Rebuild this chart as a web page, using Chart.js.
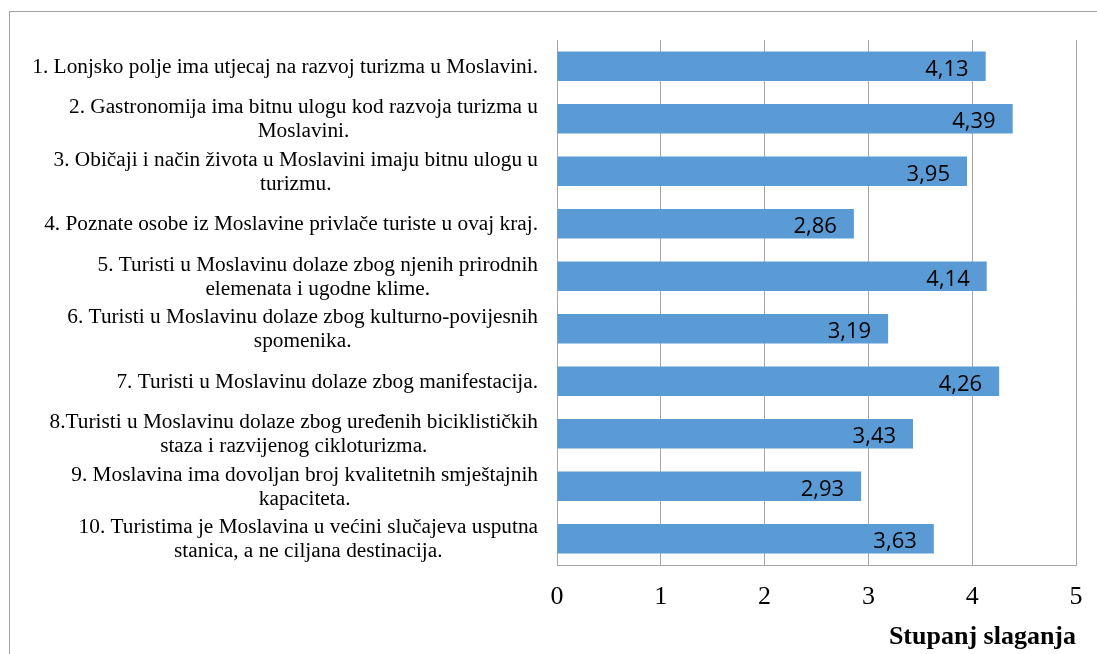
<!DOCTYPE html>
<html>
<head>
<meta charset="utf-8">
<script src="https://cdn.jsdelivr.net/npm/chart.js@4/dist/chart.umd.min.js"></script>
<style>
  html, body { margin: 0; padding: 0; background: #fff; overflow: hidden; }
  #frame { position: absolute; left: 9px; top: 11px; width: 1200px; height: 800px; border: 1px solid #a3a3a3; }
  #chart { position: absolute; left: 0; top: 0; }
</style>
</head>
<body>
<div id="frame"></div>
<canvas id="chart" width="1097" height="654"></canvas>
<script>
// statements (y categories), wrapped like the original
var questions = [
  ['1. Lonjsko polje ima utjecaj na razvoj turizma u Moslavini.'],
  ['2. Gastronomija ima bitnu ulogu kod razvoja turizma u', 'Moslavini.'],
  ['3. Običaji i način života u Moslavini imaju bitnu ulogu u', 'turizmu.'],
  ['4. Poznate osobe iz Moslavine privlače turiste u ovaj kraj.'],
  ['5. Turisti u Moslavinu dolaze zbog njenih prirodnih', 'elemenata i ugodne klime.'],
  ['6. Turisti u Moslavinu dolaze zbog kulturno-povijesnih', 'spomenika.'],
  ['7. Turisti u Moslavinu dolaze zbog manifestacija.'],
  ['8.Turisti u Moslavinu dolaze zbog uređenih biciklističkih', 'staza i razvijenog cikloturizma.'],
  ['9. Moslavina ima dovoljan broj kvalitetnih smještajnih', 'kapaciteta.'],
  ['10. Turistima je Moslavina u većini slučajeva usputna', 'stanica, a ne ciljana destinacija.']
];

// mean agreement per statement
var agreement = [4.13, 4.39, 3.95, 2.86, 4.14, 3.19, 4.26, 3.43, 2.93, 3.63];

var axisTitle = 'Stupanj slaganja';

var serif = '"Liberation Serif", "Times New Roman", serif';
var barColor = '#5b9bd5';
var gridColor = '#a6a6a6';

// draws the wrapped statements: block right aligned, lines centered in the block
var questionLabels = {
  id: 'questionLabels',
  afterDraw: function(chart) {
    var ctx = chart.ctx;
    var yScale = chart.scales.y;
    var right = chart.chartArea.left - 19;
    ctx.save();
    ctx.font = '21.3px ' + serif;
    ctx.fillStyle = '#000';
    ctx.textAlign = 'center';
    ctx.textBaseline = 'middle';
    questions.forEach(function(lines, i) {
      var y = yScale.getPixelForValue(i);
      var w = Math.max.apply(null, lines.map(function(l) { return ctx.measureText(l).width; }));
      var cx = right - w / 2;
      lines.forEach(function(line, j) {
        ctx.fillText(line, cx, y + 1 + (j - (lines.length - 1) / 2) * 24);
      });
    });
    ctx.restore();
  }
};

// value labels inside the bar end, with decimal comma
var valueLabels = {
  id: 'valueLabels',
  afterDatasetsDraw: function(chart) {
    var ctx = chart.ctx;
    var meta = chart.getDatasetMeta(0);
    ctx.save();
    ctx.font = '22px "Open Sans", "Liberation Sans", sans-serif';
    ctx.fillStyle = '#000';
    ctx.textAlign = 'right';
    ctx.textBaseline = 'middle';
    meta.data.forEach(function(bar, i) {
      ctx.fillText(agreement[i].toFixed(2).replace('.', ','), bar.x - 17, bar.y + 3);
    });
    ctx.restore();
  }
};

new Chart(document.getElementById('chart').getContext('2d'), {
  type: 'bar',
  data: {
    labels: questions.map(function(q) { return q.join(' '); }),
    datasets: [{
      data: agreement,
      backgroundColor: barColor,
      borderWidth: 0,
      categoryPercentage: 1,
      barPercentage: 0.56
    }]
  },
  options: {
    indexAxis: 'y',
    responsive: false,
    animation: false,
    layout: { padding: { left: 557, top: 40, right: 21, bottom: 0 } },
    plugins: {
      legend: { display: false },
      tooltip: { enabled: false }
    },
    scales: {
      x: {
        min: 0,
        max: 5,
        afterFit: function(scale) {
          scale.height = 89;
          scale.paddingLeft = 0;
          scale.paddingRight = 0;
        },
        ticks: { stepSize: 1, color: '#000', padding: 17, font: { family: serif, size: 26 } },
        grid: { color: gridColor, drawTicks: false },
        border: { color: gridColor },
        title: {
          display: true,
          text: axisTitle,
          align: 'end',
          color: '#000',
          padding: { top: 2, bottom: 1 },
          font: { family: serif, size: 26, weight: 'bold' }
        }
      },
      y: {
        display: false
      }
    }
  },
  plugins: [questionLabels, valueLabels]
});
</script>
</body>
</html>
